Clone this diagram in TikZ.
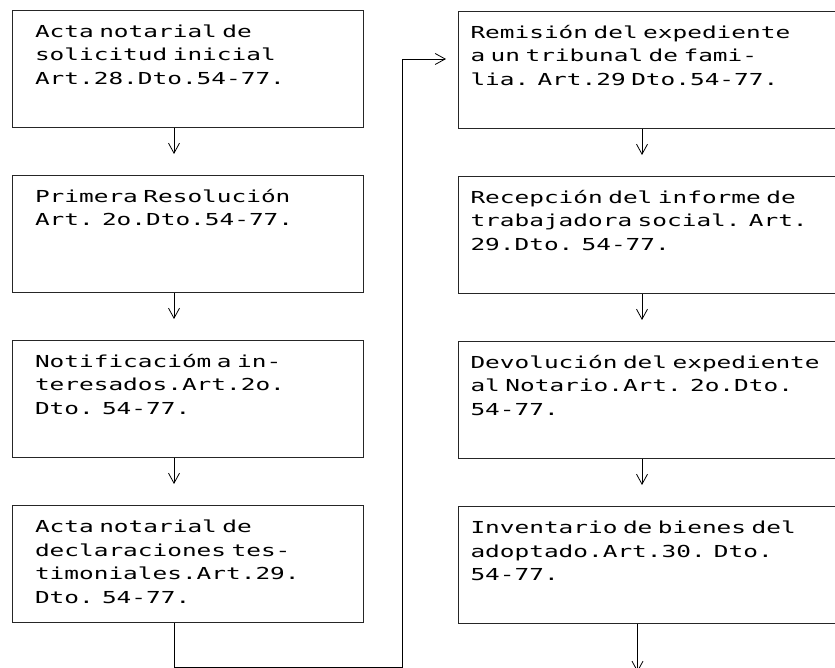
\documentclass[tikz,border=0pt]{standalone}
\usepackage{fontspec}
\newfontfamily\dotfont[FakeStretch=1.48]{DejaVu Sans Mono}
\usetikzlibrary{arrows.meta, positioning}
\tikzstyle{arrow} = [line width=0.8pt, -{Straight Barb[length=10pt, width=11pt]}]

\begin{document}
\begin{tikzpicture}[x=1pt, y=1pt,
    stepbox/.style={rectangle, draw=black!85, line width=1pt, align=left, inner ysep=0pt, text height=27pt, text depth=90pt, font=\dotfont\fontsize{16.5}{23.5}\selectfont},
    leftbox/.style={stepbox, inner xsep=23pt, text width=305pt},
    rightbox/.style={stepbox, inner xsep=12pt, text width=380pt},
]
\useasboundingbox (0,0) rectangle (835,667);

% left column
\node[leftbox, anchor=north] (b1) at (187.5,657) {Acta notarial de\\solicitud inicial\\Art.28.Dto.54-77.};
\node[leftbox, below=47pt of b1] (b2) {Primera Resolución\\Art. 2o.Dto.54-77.};
\node[leftbox, below=47pt of b2] (b3) {Notificacióm a in-\\teresados.Art.2o.\\Dto. 54-77.};
\node[leftbox, below=47pt of b3] (b4) {Acta notarial de\\declaraciones tes-\\timoniales.Art.29.\\Dto. 54-77.};

% right column
\node[rightbox, anchor=north west] (r1) at (458,656) {Remisión del expediente\\a un tribunal de fami-\\lia. Art.29 Dto.54-77.};
\node[rightbox, below=47pt of r1] (r2) {Recepción del informe de\\trabajadora social. Art.\\29.Dto. 54-77.};
\node[rightbox, below=47pt of r2] (r3) {Devolución del expediente\\al Notario.Art. 2o.Dto.\\54-77.};
\node[rightbox, below=47pt of r3] (r4) {Inventario de bienes del\\adoptado.Art.30. Dto.\\54-77.};

% arrows down each column
\foreach \a/\b in {b1/b2, b2/b3, b3/b4}
    \draw[arrow, shorten >=21pt] ([xshift=-13.5pt]\a.south) -- ([xshift=-13.5pt]\b.north);
\foreach \a/\b in {r1/r2, r2/r3, r3/r4}
    \draw[arrow, shorten >=21pt] ([xshift=-18.5pt]\a.south) -- ([xshift=-18.5pt]\b.north);

% from the left column over to the right one
\coordinate (entry) at ([yshift=11pt]r1.west);
\draw[arrow, shorten >=12pt] ([xshift=-13.5pt]b4.south) -- ++(0,-44) -| ([xshift=-56pt]entry) -- (entry);

% on to the next page
\coordinate (next) at ([xshift=-23pt, yshift=-48pt]r4.south);
\draw[arrow] ([xshift=-23pt]r4.south) -- (next);

\end{tikzpicture}
\end{document}
